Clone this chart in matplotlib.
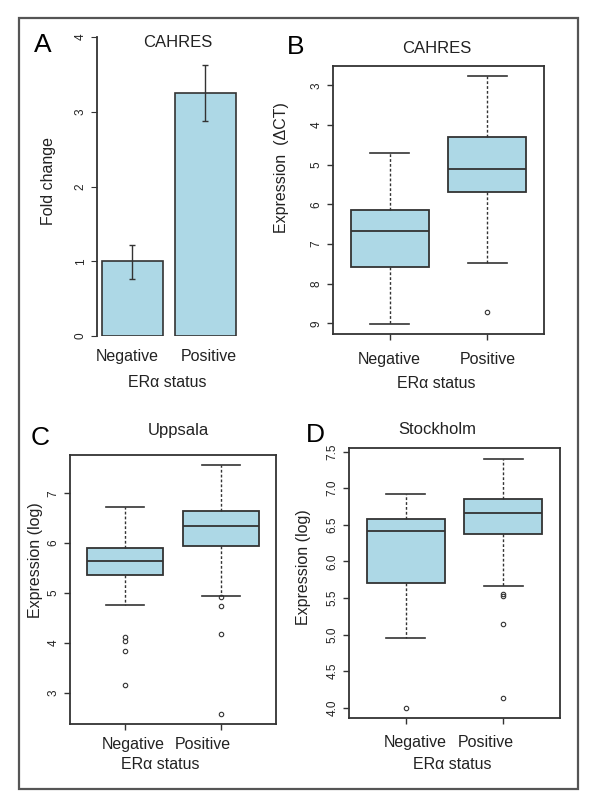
import matplotlib
matplotlib.use('Agg')
import matplotlib.pyplot as plt
from matplotlib.patches import Rectangle

plt.rcParams['font.family'] = ['Liberation Sans', 'DejaVu Sans']

# Data
groups = ['Negative', 'Positive']

# A: fold change (bar + error)
fold_change = [1.0, 3.25]
fold_low = [0.76, 2.88]
fold_high = [1.22, 3.62]

# B: CAHRES expression (delta CT), axis inverted
b_whislo = [4.71, 2.76]
b_q1 = [6.15, 4.31]
b_med = [6.68, 5.11]
b_q3 = [7.58, 5.68]
b_whishi = [9.02, 7.47]
b_fliers = [[], [8.72]]

# C: Uppsala
c_whislo = [4.75, 4.94]
c_q1 = [5.36, 5.95]
c_med = [5.65, 6.34]
c_q3 = [5.90, 6.64]
c_whishi = [6.73, 7.57]
c_fliers = [[4.11, 4.03, 3.83, 3.16], [4.91, 4.73, 4.18, 2.57]]

# D: Stockholm
d_whislo = [4.96, 5.67]
d_q1 = [5.70, 6.37]
d_med = [6.42, 6.66]
d_q3 = [6.58, 6.85]
d_whishi = [6.92, 7.40]
d_fliers = [[4.0], [5.56, 5.53, 5.14, 4.14]]

fill = '#ADD8E6'
ink = '#333333'
txt = '#222222'
ytick_size = 8.5
lab_size = 11.5
title_size = 12

fig = plt.figure(figsize=(6, 8), dpi=100)
fig.patches.append(Rectangle((0.0317, 0.01375), 0.9317, 0.96375, transform=fig.transFigure,
                             fill=False, edgecolor='#555555', linewidth=1.6))


def make_stats(whislo, q1, med, q3, whishi, fliers):
    stats = []
    for i in range(len(groups)):
        stats.append({'whislo': whislo[i], 'q1': q1[i], 'med': med[i], 'q3': q3[i],
                      'whishi': whishi[i], 'fliers': fliers[i]})
    return stats


def draw_box(ax, stats):
    ax.bxp(stats, positions=[1, 2], widths=0.8, patch_artist=True,
           boxprops=dict(facecolor=fill, edgecolor=ink, linewidth=1.3),
           medianprops=dict(color=ink, linewidth=1.3),
           whiskerprops=dict(color=ink, linewidth=1.0, linestyle=(0, (2, 1.5))),
           capprops=dict(color=ink, linewidth=1.2),
           capwidths=0.4,
           flierprops=dict(marker='o', markersize=3.2, markerfacecolor='none',
                           markeredgecolor=ink, markeredgewidth=0.8))
    ax.set_xlim(0.42, 2.58)
    for s in ax.spines.values():
        s.set_color(ink)
        s.set_linewidth(1.3)
    ax.tick_params(axis='both', direction='out', length=4, color=ink, width=1.0,
                   labelcolor=txt)
    ax.tick_params(axis='y', labelsize=ytick_size, labelrotation=90)


def center_yticks(ax):
    for lab in ax.get_yticklabels():
        lab.set_verticalalignment('center')


# ---- A ----
axA = fig.add_axes([0.1617, 0.58, 0.238, 0.37375])
yerr = [[fold_change[i] - fold_low[i] for i in range(2)],
        [fold_high[i] - fold_change[i] for i in range(2)]]
axA.bar([1, 2], fold_change, width=0.83, color=fill, edgecolor=ink, linewidth=1.2)
axA.errorbar([1, 2], fold_change, yerr=yerr, fmt='none', ecolor=ink, elinewidth=1.0,
             capsize=2, capthick=1.0)
axA.set_xlim(0.517, 2.47)
axA.set_ylim(0, 4)
for k in ['top', 'right', 'bottom']:
    axA.spines[k].set_visible(False)
axA.spines['left'].set_color(ink)
axA.spines['left'].set_linewidth(1.3)
axA.set_yticks([0, 1, 2, 3, 4])
axA.tick_params(axis='y', direction='out', length=4, color=ink, labelsize=ytick_size,
                labelrotation=90, labelcolor=txt)
center_yticks(axA)
axA.set_xticks([0.93, 2.04])
axA.set_xticklabels(groups, fontsize=lab_size, color=txt)
axA.tick_params(axis='x', length=0, pad=9)
axA.set_ylabel('Fold change', fontsize=lab_size, color=txt)
axA.yaxis.set_label_coords(-0.29, 0.52)
axA.set_xlabel('ERα status', fontsize=lab_size, color=txt)
axA.xaxis.set_label_coords(0.49, -0.13)
fig.text(0.072, 0.944, 'A', fontsize=19, color='black', ha='center', va='center')
fig.text(0.297, 0.947, 'CAHRES', fontsize=title_size, color=txt, ha='center', va='center')

# ---- B ----
axB = fig.add_axes([0.555, 0.5825, 0.3517, 0.335])
draw_box(axB, make_stats(b_whislo, b_q1, b_med, b_q3, b_whishi, b_fliers))
axB.set_ylim(9.27, 2.51)
axB.set_yticks([3, 4, 5, 6, 7, 8, 9])
center_yticks(axB)
axB.set_xticks([1, 2])
axB.set_xticklabels(groups, fontsize=lab_size)
axB.tick_params(axis='x', pad=9)
axB.set_ylabel('Expression  (ΔCT)', fontsize=lab_size, color=txt)
axB.yaxis.set_label_coords(-0.21, 0.62)
axB.set_xlabel('ERα status', fontsize=lab_size, color=txt)
axB.xaxis.set_label_coords(0.49, -0.156)
fig.text(0.492, 0.941, 'B', fontsize=19, color='black', ha='center', va='center')
fig.text(0.728, 0.939, 'CAHRES', fontsize=title_size, color=txt, ha='center', va='center')

# ---- C ----
axC = fig.add_axes([0.1167, 0.095, 0.3433, 0.33625])
draw_box(axC, make_stats(c_whislo, c_q1, c_med, c_q3, c_whishi, c_fliers))
axC.set_ylim(2.37, 7.77)
axC.set_yticks([3, 4, 5, 6, 7])
center_yticks(axC)
axC.set_xticks([1, 2])
axC.set_xticklabels([])
axC.text(0.305, -0.075, groups[0], transform=axC.transAxes, fontsize=lab_size, color=txt,
         ha='center', va='center')
axC.text(0.645, -0.075, groups[1], transform=axC.transAxes, fontsize=lab_size, color=txt,
         ha='center', va='center')
axC.set_ylabel('Expression (log)', fontsize=lab_size, color=txt)
axC.yaxis.set_label_coords(-0.131, 0.61)
axC.set_xlabel('ERα status', fontsize=lab_size, color=txt)
axC.xaxis.set_label_coords(0.44, -0.123)
fig.text(0.067, 0.452, 'C', fontsize=19, color='black', ha='center', va='center')
fig.text(0.298, 0.4625, 'Uppsala', fontsize=title_size, color=txt, ha='center', va='center')

# ---- D ----
axD = fig.add_axes([0.5817, 0.1025, 0.3517, 0.3375])
draw_box(axD, make_stats(d_whislo, d_q1, d_med, d_q3, d_whishi, d_fliers))
axD.set_ylim(3.86, 7.55)
axD.set_yticks([4.0, 4.5, 5.0, 5.5, 6.0, 6.5, 7.0, 7.5])
axD.set_yticklabels(['4.0', '4.5', '5.0', '5.5', '6.0', '6.5', '7.0', '7.5'])
center_yticks(axD)
axD.set_xticks([1, 2])
axD.set_xticklabels([])
axD.text(0.315, -0.09, groups[0], transform=axD.transAxes, fontsize=lab_size, color=txt,
         ha='center', va='center')
axD.text(0.647, -0.09, groups[1], transform=axD.transAxes, fontsize=lab_size, color=txt,
         ha='center', va='center')
axD.set_ylabel('Expression (log)', fontsize=lab_size, color=txt)
axD.yaxis.set_label_coords(-0.182, 0.56)
axD.set_xlabel('ERα status', fontsize=lab_size, color=txt)
axD.xaxis.set_label_coords(0.49, -0.143)
fig.text(0.525, 0.456, 'D', fontsize=19, color='black', ha='center', va='center')
fig.text(0.728, 0.4625, 'Stockholm', fontsize=title_size, color=txt, ha='center', va='center')

fig.savefig('out.png', dpi=100, facecolor='white')
